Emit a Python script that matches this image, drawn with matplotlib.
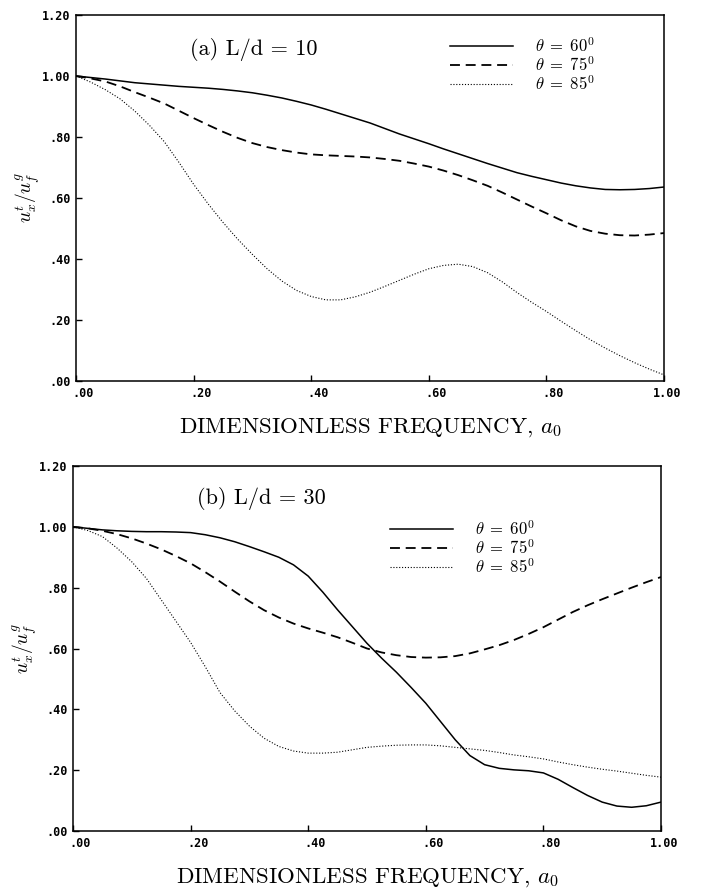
import numpy as np
import matplotlib
matplotlib.use("Agg")
import matplotlib.pyplot as plt
from matplotlib.transforms import ScaledTranslation

plt.rcParams['mathtext.fontset'] = 'cm'

# частоты (общие для всех кривых), шаг 0.025
a0 = [i * 0.025 for i in range(41)]

# (a) L/d = 10
a_60 = [1.000, 0.995, 0.990, 0.984, 0.978, 0.974, 0.970, 0.966, 0.963, 0.960, 0.956,
        0.951, 0.945, 0.937, 0.928, 0.917, 0.905, 0.891, 0.876, 0.861, 0.846,
        0.828, 0.810, 0.794, 0.778, 0.761, 0.745, 0.729, 0.713, 0.698, 0.683,
        0.671, 0.660, 0.649, 0.640, 0.633, 0.628, 0.627, 0.628, 0.631, 0.636]
a_75 = [1.000, 0.992, 0.982, 0.966, 0.947, 0.929, 0.910, 0.886, 0.862, 0.839, 0.817,
        0.797, 0.780, 0.767, 0.757, 0.749, 0.743, 0.740, 0.738, 0.736, 0.733,
        0.728, 0.722, 0.713, 0.703, 0.690, 0.675, 0.658, 0.640, 0.618, 0.595,
        0.572, 0.550, 0.527, 0.507, 0.492, 0.483, 0.478, 0.477, 0.480, 0.485]
a_85 = [1.000, 0.980, 0.955, 0.925, 0.885, 0.838, 0.785, 0.717, 0.645, 0.580, 0.520,
        0.465, 0.415, 0.368, 0.328, 0.297, 0.277, 0.266, 0.266, 0.276, 0.291,
        0.310, 0.330, 0.350, 0.368, 0.379, 0.383, 0.375, 0.355, 0.325, 0.290,
        0.258, 0.228, 0.196, 0.165, 0.135, 0.108, 0.083, 0.060, 0.039, 0.020]

# (b) L/d = 30
b_60 = [1.000, 0.995, 0.990, 0.987, 0.985, 0.984, 0.984, 0.983, 0.981, 0.974, 0.964,
        0.951, 0.935, 0.918, 0.900, 0.875, 0.838, 0.785, 0.727, 0.672, 0.617,
        0.568, 0.522, 0.472, 0.420, 0.360, 0.300, 0.248, 0.218, 0.206, 0.201,
        0.198, 0.191, 0.170, 0.143, 0.117, 0.095, 0.082, 0.078, 0.083, 0.095]
b_75 = [1.000, 0.995, 0.987, 0.976, 0.962, 0.945, 0.926, 0.904, 0.880, 0.851, 0.820,
        0.787, 0.755, 0.726, 0.702, 0.682, 0.666, 0.652, 0.637, 0.619, 0.600,
        0.587, 0.578, 0.572, 0.570, 0.571, 0.575, 0.584, 0.597, 0.611, 0.628,
        0.648, 0.670, 0.695, 0.720, 0.742, 0.762, 0.781, 0.800, 0.818, 0.835]
b_85 = [1.000, 0.988, 0.968, 0.930, 0.885, 0.830, 0.760, 0.690, 0.620, 0.540, 0.455,
        0.395, 0.345, 0.305, 0.278, 0.263, 0.256, 0.256, 0.259, 0.267, 0.275,
        0.279, 0.282, 0.283, 0.283, 0.280, 0.275, 0.270, 0.265, 0.258, 0.250,
        0.244, 0.237, 0.227, 0.218, 0.210, 0.203, 0.197, 0.190, 0.183, 0.177]

x_ticks = [0.0, 0.2, 0.4, 0.6, 0.8, 1.0]
x_tick_labels = ['.00', '.20', '.40', '.60', '.80', '1.00']
y_ticks = [0.0, 0.2, 0.4, 0.6, 0.8, 1.0, 1.2]
y_tick_labels = ['.00', '.20', '.40', '.60', '.80', '1.00', '1.20']
angles = ['60', '75', '85']

styles = [dict(ls='-', lw=1.1),
          dict(ls=(0, (5.5, 3.2)), lw=1.3),
          dict(ls=(0, (1, 1.6)), lw=0.8)]

fig = plt.figure(figsize=(7.04, 8.91), dpi=100)
ax1 = fig.add_axes([76/704, 1 - 381/891, 588/704, 366/891])
ax2 = fig.add_axes([73/704, 1 - 831/891, 588/704, 365/891])

panels = [
    (ax1, [a_60, a_75, a_85], '(a) L/d = 10', (0.194, 0.891), (0.636, 0.862)),
    (ax2, [b_60, b_75, b_85], '(b) L/d = 30', (0.211, 0.896), (0.539, 0.774)),
]

mono = 'DejaVu Sans Mono'
tick_fs = 8.5
char_w = 0.602 * tick_fs / 72.0  # ширина символа моноширинного шрифта, дюймы

for ax, series, title, tpos, lpos in panels:
    for vals, st, ang in zip(series, styles, angles):
        ax.plot(a0, vals, color='black', label=r'$\theta\;=\;%s^0$' % ang, **st)
    ax.set_xlim(0, 1)
    ax.set_ylim(0, 1.2)
    ax.set_xticks(x_ticks)
    ax.set_xticklabels([])
    # подписи оси x: десятичная точка стоит под делением, как на плоттере
    for xv, txt in zip(x_ticks, x_tick_labels):
        shift = (len(txt) / 2.0 - (txt.index('.') + 0.5)) * char_w
        tr = ax.get_xaxis_transform() + ScaledTranslation(shift, -4.5 / 72, fig.dpi_scale_trans)
        ax.text(xv, 0, txt, transform=tr, ha='center', va='top',
                fontfamily=mono, fontsize=tick_fs, fontweight='bold')
    ax.set_yticks(y_ticks)
    ax.set_yticklabels(y_tick_labels, fontfamily=mono, fontsize=tick_fs, fontweight='bold')
    ax.tick_params(direction='in', length=4, width=1, pad=4)
    for sp in ax.spines.values():
        sp.set_linewidth(1.1)
    ax.text(tpos[0], tpos[1], title, transform=ax.transAxes, family='cmr10',
            fontsize=16, ha='left', va='baseline')
    ax.text(0.5, -52/366, r'DIMENSIONLESS FREQUENCY, $a_0$', transform=ax.transAxes,
            family='cmr10', fontsize=16.5, ha='center', va='baseline')
    ax.text(-0.082, 0.5, r'$u_x^t/u_f^g$', transform=ax.transAxes, rotation=90,
            fontsize=14, ha='center', va='center')
    ax.legend(loc='center left', bbox_to_anchor=lpos, frameon=False, fontsize=12,
              handlelength=3.8, handletextpad=1.3, labelspacing=0.0,
              borderpad=0, borderaxespad=0)

fig.savefig('out.png', dpi=100)
